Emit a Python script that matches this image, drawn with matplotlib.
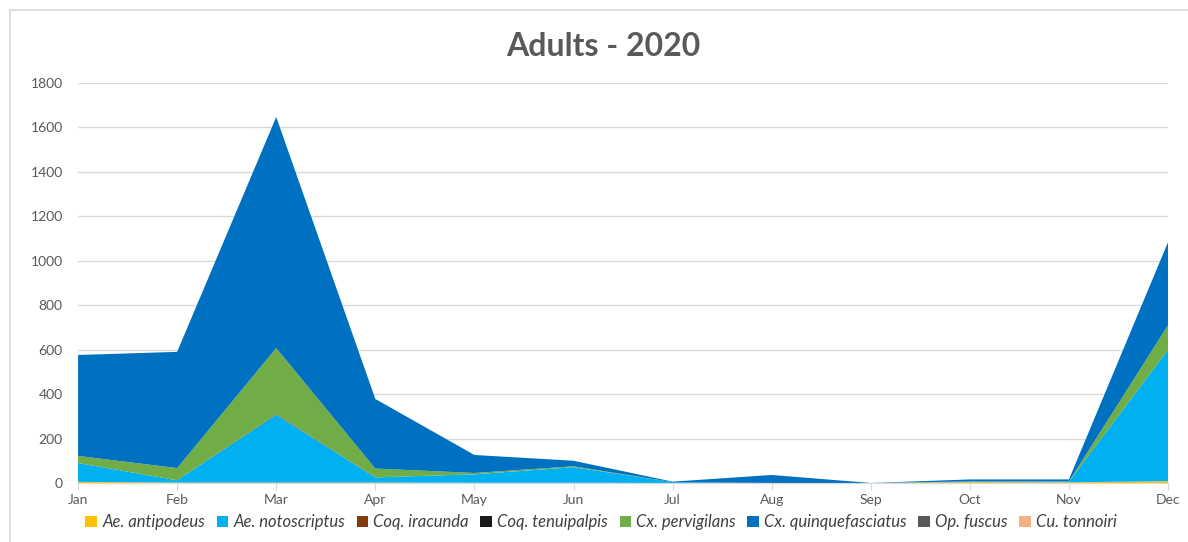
import numpy as np
import matplotlib.pyplot as plt
from matplotlib.patches import Patch
from matplotlib.lines import Line2D

plt.rcParams['font.family'] = ['Lato', 'DejaVu Sans']

months = ['Jan', 'Feb', 'Mar', 'Apr', 'May', 'Jun', 'Jul', 'Aug', 'Sep', 'Oct', 'Nov', 'Dec']

species = ['Ae. antipodeus', 'Ae. notoscriptus', 'Coq. iracunda', 'Coq. tenuipalpis',
           'Cx. pervigilans', 'Cx. quinquefasciatus', 'Op. fuscus', 'Cu. tonnoiri']
colors = ['#FFC000', '#00B0F0', '#843C0C', '#1A1A1A', '#70AD47', '#0070C0', '#595959', '#F4B183']

ae_antipodeus = [5, 2, 2, 2, 1, 1, 0, 0, 0, 4, 3, 8]
ae_notoscriptus = [85, 10, 305, 23, 38, 70, 4, 0, 0, 2, 3, 592]
coq_iracunda = [0, 0, 3, 0, 0, 0, 0, 0, 0, 0, 0, 0]
coq_tenuipalpis = [0, 0, 0, 0, 0, 0, 0, 0, 0, 0, 0, 0]
cx_pervigilans = [32, 55, 297, 40, 6, 4, 0, 0, 0, 1, 1, 110]
cx_quinquefasciatus = [454, 523, 1040, 313, 81, 25, 2, 36, 0, 9, 9, 374]
op_fuscus = [0, 0, 0, 0, 0, 0, 0, 0, 0, 0, 0, 0]
cu_tonnoiri = [0, 0, 0, 0, 0, 0, 0, 0, 0, 0, 0, 0]

series = [ae_antipodeus, ae_notoscriptus, coq_iracunda, coq_tenuipalpis,
          cx_pervigilans, cx_quinquefasciatus, op_fuscus, cu_tonnoiri]

fig = plt.figure(figsize=(11.88, 5.42), dpi=100)
ax = fig.add_axes([0.0657, 0.1089, 0.9175, 0.738])

x = np.arange(len(months))
ax.stackplot(x, *series, colors=colors, linewidth=0)

ax.set_xlim(0, 11)
ax.set_ylim(0, 1800)
ax.set_yticks(np.arange(0, 1801, 200))
ax.set_xticks(x)
ax.set_xticklabels(months)
ax.grid(axis='y', color='#D9D9D9', linewidth=1)
ax.set_axisbelow(True)
for s in ['top', 'right', 'left']:
    ax.spines[s].set_visible(False)
ax.spines['bottom'].set_color('#D9D9D9')
ax.tick_params(axis='x', colors='#D9D9D9', length=5, labelcolor='#595959', labelsize=10, pad=3)
ax.tick_params(axis='y', length=0, labelcolor='#595959', labelsize=10, pad=11)

fig.text(0.508, 0.915, 'Adults - 2020', ha='center', va='center',
         fontsize=23, fontweight='bold', color='#595959')

handles = [Patch(facecolor=c, edgecolor='none') for c in colors]
fig.legend(handles, species, loc='center', bbox_to_anchor=(0.506, 0.036), ncol=8,
           frameon=False, handlelength=0.7, handleheight=0.7, handletextpad=0.3,
           columnspacing=0.7, prop={'style': 'italic', 'size': 12}, labelcolor='#404040')

# chart border
fig.add_artist(Line2D([10 / 1188, 10 / 1188], [0, 1 - 10 / 542], transform=fig.transFigure,
                      color='#D9D9D9', linewidth=1.2))
fig.add_artist(Line2D([10 / 1188, 1], [1 - 10 / 542, 1 - 10 / 542], transform=fig.transFigure,
                      color='#D9D9D9', linewidth=1.2))

fig.savefig('out.png', dpi=100)
